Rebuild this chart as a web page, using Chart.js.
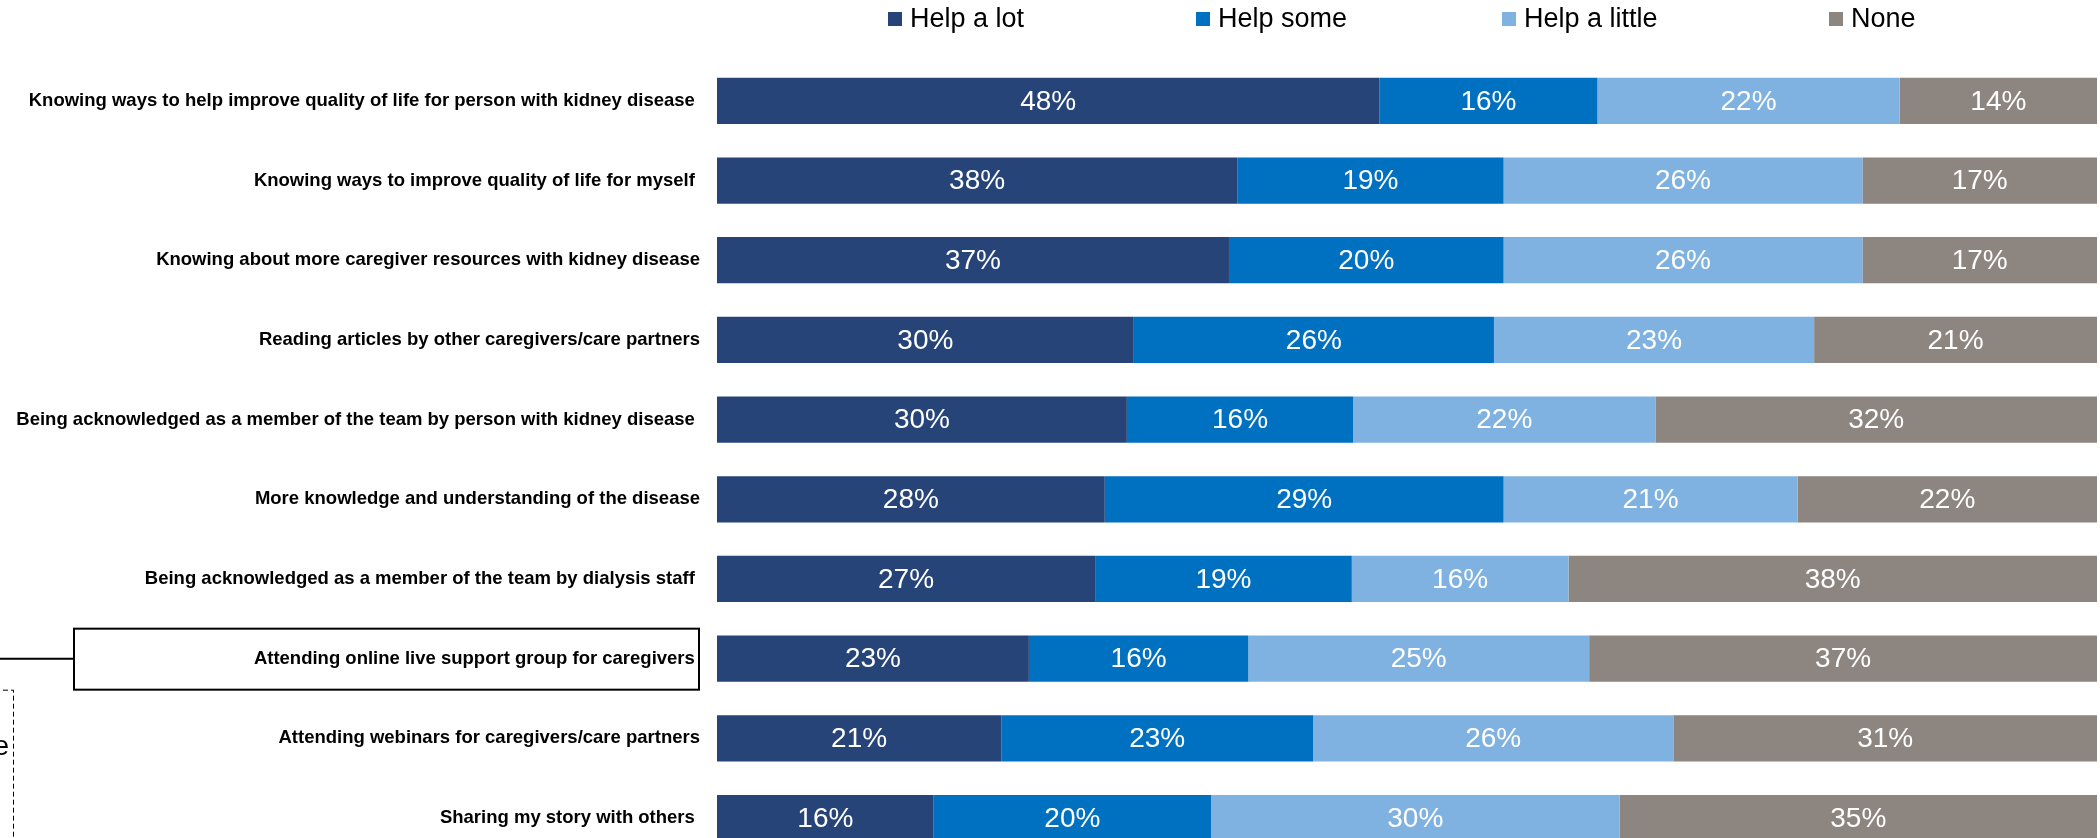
<!DOCTYPE html>
<html>
<head>
<meta charset="utf-8">
<script src="https://cdn.jsdelivr.net/npm/chart.js@4/dist/chart.umd.min.js"></script>
<style>
  html, body { margin: 0; padding: 0; width: 2100px; height: 838px; overflow: hidden; background: #fff; }
  #wrap { position: absolute; left: 0; top: 0; width: 2100px; height: 886px; }
</style>
</head>
<body>
<div id="wrap"><canvas id="chart"></canvas></div>
<script>
const FONT = '"Liberation Sans", Arial, sans-serif';

// 응답 항목 (위에서 아래 순서)
const categories = [
  'Knowing ways to help improve quality of life for person with kidney disease ',
  'Knowing ways to improve quality of life for myself ',
  'Knowing about more caregiver resources with kidney disease',
  'Reading articles by other caregivers/care partners',
  'Being acknowledged as a member of the team by person with kidney disease ',
  'More knowledge and understanding of the disease',
  'Being acknowledged as a member of the team by dialysis staff ',
  'Attending online live support group for caregivers ',
  'Attending webinars for caregivers/care partners',
  'Sharing my story with others '
];

const seriesNames = ['Help a lot', 'Help some', 'Help a little', 'None'];
const seriesColors = ['#264478', '#0070C0', '#7FB2E0', '#8C8580'];

const helpALot    = [48.0, 37.7, 37.1, 30.2, 29.7, 28.1, 27.4, 22.6, 20.6, 15.7];
const helpSome    = [15.8, 19.3, 19.9, 26.1, 16.4, 28.9, 18.6, 15.9, 22.6, 20.1];
const helpALittle = [21.9, 26.0, 26.0, 23.2, 21.9, 21.3, 15.7, 24.7, 26.1, 29.6];
const none        = [14.3, 17.0, 17.0, 20.5, 32.0, 21.7, 38.3, 36.8, 30.7, 34.6];

const highlightedRow = 7; // 박스로 강조된 항목

// 막대 안쪽 퍼센트 라벨
const barLabels = {
  id: 'barLabels',
  afterDatasetsDraw(chart) {
    const ctx = chart.ctx;
    ctx.save();
    ctx.font = '28px ' + FONT;
    ctx.fillStyle = '#ffffff';
    ctx.textAlign = 'center';
    ctx.textBaseline = 'middle';
    chart.data.datasets.forEach((ds, i) => {
      chart.getDatasetMeta(i).data.forEach((bar, j) => {
        const x = (bar.x + bar.base) / 2;
        ctx.fillText(Math.round(ds.data[j]) + '%', x, bar.y + 1);
      });
    });
    ctx.restore();
  }
};

// 상단 범례 (열 간격 고정)
const topLegend = {
  id: 'topLegend',
  afterDraw(chart) {
    const ctx = chart.ctx;
    const offsets = [171, 479, 785, 1112];
    const left = chart.chartArea.left;
    ctx.save();
    ctx.font = '27px ' + FONT;
    ctx.textBaseline = 'middle';
    ctx.textAlign = 'left';
    chart.data.datasets.forEach((ds, i) => {
      const x = left + offsets[i];
      ctx.fillStyle = ds.backgroundColor;
      ctx.fillRect(x, 12, 14, 14);
      ctx.fillStyle = '#000';
      ctx.fillText(ds.label, x + 22, 20);
    });
    ctx.restore();
  }
};

// 왼쪽 강조 박스와 점선 콜아웃
const callout = {
  id: 'callout',
  afterDraw(chart) {
    const ctx = chart.ctx;
    const yc = chart.scales.y.getPixelForValue(highlightedRow);
    ctx.save();
    ctx.strokeStyle = '#000';
    ctx.lineWidth = 2;
    ctx.strokeRect(74, yc - 30, 625, 61);
    ctx.beginPath();
    ctx.moveTo(0, yc);
    ctx.lineTo(74, yc);
    ctx.stroke();

    ctx.lineWidth = 1;
    ctx.setLineDash([5, 3]);
    ctx.beginPath();
    ctx.moveTo(-5, yc + 31.5);
    ctx.lineTo(13.5, yc + 31.5);
    ctx.lineTo(13.5, 900);
    ctx.stroke();
    ctx.setLineDash([]);

    ctx.font = '28px ' + FONT;
    ctx.fillStyle = '#000';
    ctx.textAlign = 'right';
    ctx.textBaseline = 'alphabetic';
    ctx.fillText('e', 9, yc + 96);
    ctx.restore();
  }
};

const datasets = [helpALot, helpSome, helpALittle, none].map((vals, i) => ({
  label: seriesNames[i],
  data: vals,
  backgroundColor: seriesColors[i],
  borderWidth: 0,
  categoryPercentage: 1,
  barPercentage: 0.58
}));

new Chart(document.getElementById('chart'), {
  type: 'bar',
  data: { labels: categories, datasets },
  options: {
    indexAxis: 'y',
    responsive: true,
    maintainAspectRatio: false,
    animation: false,
    layout: { padding: { top: 61, bottom: 2, right: 3, left: 0 } },
    plugins: { legend: { display: false }, tooltip: { enabled: false } },
    scales: {
      x: { stacked: true, min: 0, max: 100, display: false },
      y: {
        stacked: true,
        grid: { display: false, drawTicks: false },
        border: { display: false },
        ticks: { color: '#000', padding: 17, font: { family: FONT, size: 18.5, weight: 'bold' } },
        afterFit: (scale) => { scale.width = 717; }
      }
    }
  },
  plugins: [barLabels, topLegend, callout]
});
</script>
</body>
</html>
